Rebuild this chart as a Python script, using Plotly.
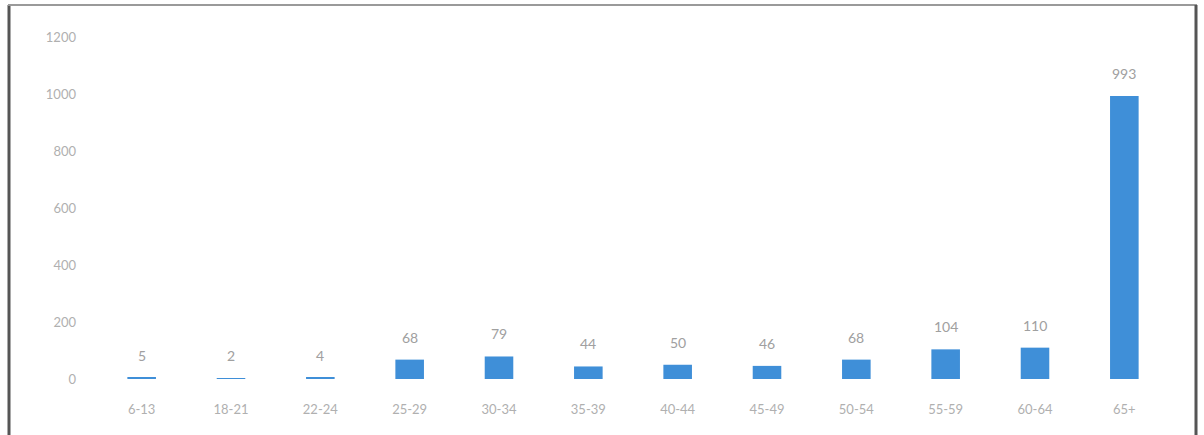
import plotly.graph_objects as go

categories = ["6-13", "18-21", "22-24", "25-29", "30-34", "35-39", "40-44",
              "45-49", "50-54", "55-59", "60-64", "65+"]
values = [5, 2, 4, 68, 79, 44, 50, 46, 68, 104, 110, 993]
y_ticks = [0, 200, 400, 600, 800, 1000, 1200]

W, H = 1204, 435
L, R, T, B = 97, 35, 37, 56

fig = go.Figure(go.Bar(
    x=categories, y=values,
    marker=dict(color="#3f8fd8", line=dict(width=0)),
    width=0.32,
    hoverinfo="x+y",
))

for c, v in zip(categories, values):
    fig.add_annotation(x=c, y=v, text=str(v), showarrow=False, yanchor="bottom",
                       yshift=12, font=dict(color="#a0a0a0", size=14, family="Lato"))

pw = W - L - R
ph = H - T - B
def px(x):
    return (x - L) / pw
def py(y):
    return (H - B - y) / ph

shapes = [
    dict(type="line", xref="paper", yref="paper", x0=px(9), x1=px(9), y0=py(5), y1=py(435),
         line=dict(color="#555555", width=3)),
    dict(type="line", xref="paper", yref="paper", x0=px(8), x1=px(1197), y0=py(5), y1=py(5),
         line=dict(color="#9a9a9a", width=2)),
    dict(type="line", xref="paper", yref="paper", x0=px(1196), x1=px(1196), y0=py(5), y1=py(435),
         line=dict(color="#555555", width=3)),
]

fig.update_layout(
    width=W, height=H,
    margin=dict(l=L, r=R, t=T, b=B),
    plot_bgcolor="white", paper_bgcolor="white",
    showlegend=False,
    shapes=shapes,
    font=dict(family="Lato", color="#b0b0b0", size=13),
)
fig.update_xaxes(showgrid=False, showline=False, ticks="", tickfont=dict(color="#b0b0b0", size=13),
                 ticklabelstandoff=21)
fig.update_yaxes(range=[0, 1200], tickvals=y_ticks, showgrid=False, zeroline=False,
                 showline=False, ticks="", tickfont=dict(color="#b0b0b0", size=13),
                 ticklabelstandoff=20)

fig.write_html("out.html", config={"displayModeBar": False},
               post_script="document.body.style.margin='0';document.body.style.overflow='hidden';")
